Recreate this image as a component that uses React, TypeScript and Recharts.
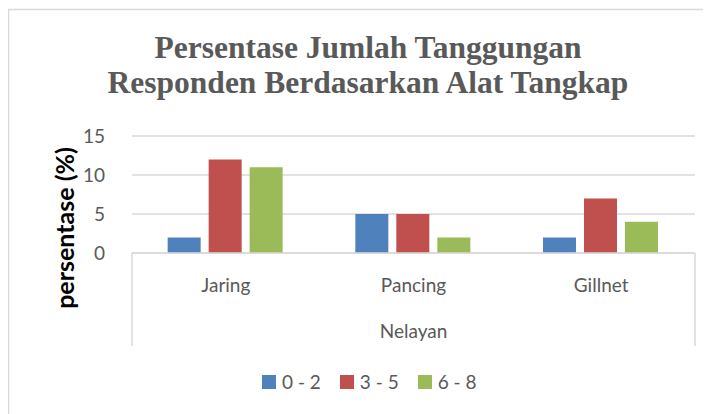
import { BarChart, Bar, XAxis, YAxis, CartesianGrid, Legend, Customized } from 'recharts'

const categories = ['Jaring', 'Pancing', 'Gillnet']
const seriesNames = ['0 - 2', '3 - 5', '6 - 8']
const values02 = [2, 5, 2]
const values35 = [12, 5, 7]
const values68 = [11, 2, 4]
const yTicks = [0, 5, 10, 15]
const groupLabel = 'Nelayan'
const titleLines = ['Persentase Jumlah Tanggungan', 'Responden Berdasarkan Alat Tangkap']
const yLabel = 'persentase (%)'

const colors = ['#4f81bd', '#c0504d', '#9bbb59']
const keys = ['a', 'b', 'c']

const data = categories.map((name, i) => ({
  name,
  a: values02[i],
  b: values35[i],
  c: values68[i],
}))

const W = 703
const H = 406
const PLOT_LEFT = 124
const PLOT_RIGHT = 687
const BAND = (PLOT_RIGHT - PLOT_LEFT) / categories.length
const AXIS_H = 93
const FONT = 'Lato, "Open Sans", sans-serif'
const GREY = '#595959'
const LINE = '#d9d9d9'

function CategoryTick(props: any) {
  const { x, y, payload, index } = props
  return (
    <g>
      <text x={x} y={y + 39} textAnchor="middle" fontFamily={FONT} fontSize={19} fill={GREY}>
        {payload.value}
      </text>
      {index === 0 && (
        <line x1={x - BAND / 2} x2={x - BAND / 2} y1={y} y2={y + AXIS_H} stroke={LINE} strokeWidth={1.5} />
      )}
      {index === categories.length - 1 && (
        <line x1={x + BAND / 2} x2={x + BAND / 2} y1={y} y2={y + AXIS_H} stroke={LINE} strokeWidth={1.5} />
      )}
    </g>
  )
}

function LegendContent() {
  return (
    <div style={{ display: 'flex', alignItems: 'center', marginLeft: 254, fontFamily: FONT, fontSize: 19, color: GREY }}>
      {seriesNames.map((n, i) => (
        <div key={n} style={{ display: 'flex', alignItems: 'center', marginRight: 19 }}>
          <span style={{ width: 14, height: 14, background: colors[i], display: 'inline-block', marginRight: 6 }} />
          <span style={{ lineHeight: '20px' }}>{n}</span>
        </div>
      ))}
    </div>
  )
}

function Decor() {
  return (
    <g>
      <line x1={0.5} x2={0.5} y1={1} y2={H} stroke={LINE} strokeWidth={1.5} />
      <line x1={0} x2={W} y1={1.5} y2={1.5} stroke={LINE} strokeWidth={1.5} />
      {titleLines.map((t, i) => (
        <text
          key={t}
          x={360}
          y={50 + i * 35}
          textAnchor="middle"
          fontFamily='"Liberation Serif", "Times New Roman", serif'
          fontWeight="bold"
          fontSize={31.5}
          fill={GREY}
        >
          {t}
        </text>
      ))}
      <text
        x={0}
        y={0}
        transform="translate(56,220) rotate(-90)"
        textAnchor="middle"
        dominantBaseline="central"
        fontFamily={FONT}
        fontWeight="bold"
        fontSize={25}
        fill="#000"
      >
        {yLabel}
      </text>
    </g>
  )
}

export default function App() {
  return (
    <div style={{ width: W, height: H, position: 'relative', background: '#fff' }}>
      <BarChart
        width={W}
        height={H}
        data={data}
        margin={{ top: 128, right: W - PLOT_RIGHT, bottom: 48, left: 64 }}
        barCategoryGap="19%"
        barGap={8}
      >
        <CartesianGrid vertical={false} stroke={LINE} strokeWidth={1.5} />
        <XAxis
          dataKey="name"
          height={AXIS_H}
          tick={<CategoryTick />}
          tickLine={false}
          tickSize={0}
          tickMargin={0}
          axisLine={{ stroke: LINE, strokeWidth: 1.5 }}
          interval={0}
          label={{ value: groupLabel, position: 'insideBottom', offset: 8, fontFamily: FONT, fontSize: 19, fill: GREY }}
        />
        <YAxis
          width={60}
          domain={[0, 15]}
          ticks={yTicks}
          axisLine={false}
          tickLine={false}
          tickMargin={21}
          tick={{ fontFamily: FONT, fontSize: 19, fill: GREY }}
        />
        <Legend
          verticalAlign="bottom"
          content={<LegendContent />}
          wrapperStyle={{ top: 364, bottom: 'auto', left: 0, width: W, height: 20 }}
        />
        {keys.map((k, i) => (
          <Bar key={k} dataKey={k} name={seriesNames[i]} fill={colors[i]} isAnimationActive={false} />
        ))}
        <Customized component={Decor} />
      </BarChart>
    </div>
  )
}
